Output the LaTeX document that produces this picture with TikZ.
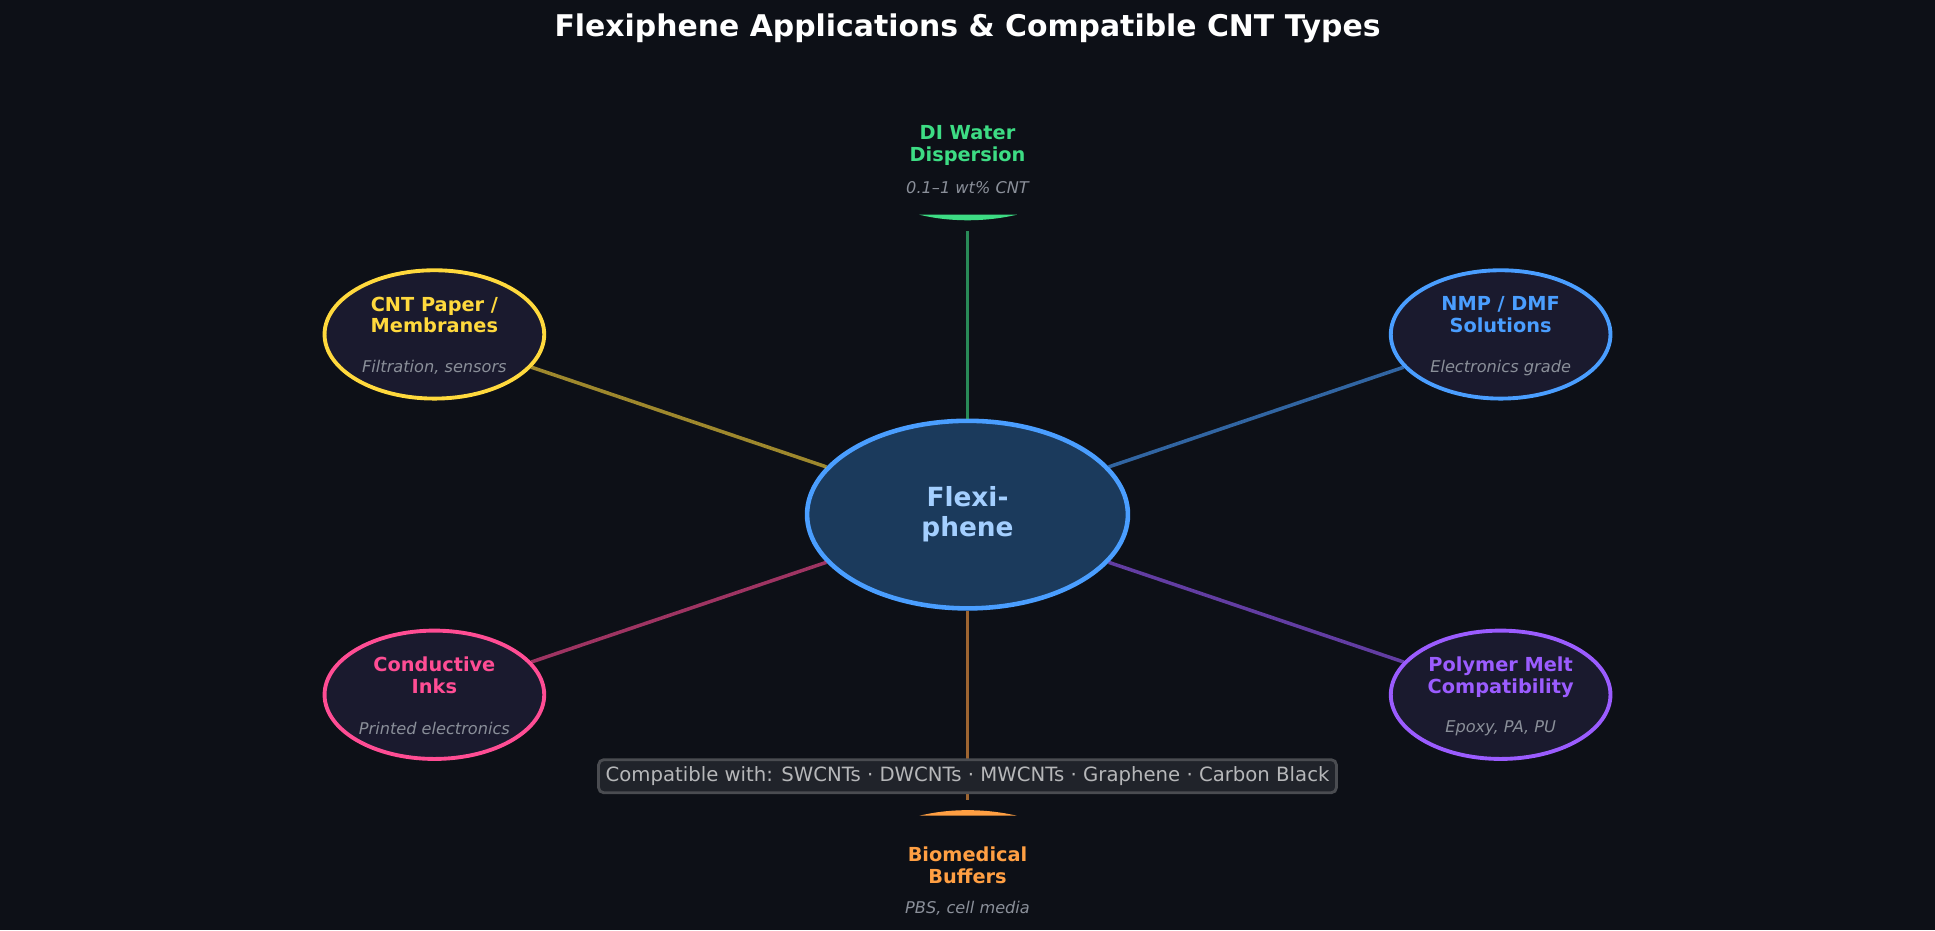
\documentclass[tikz,border=0pt]{standalone}
\usepackage{fontspec}
\setmainfont{DejaVu Sans}
\usetikzlibrary{shapes.geometric}
\usetikzlibrary{positioning}
\definecolor{bg}{HTML}{0D1017}
\definecolor{hub}{HTML}{1B3A5C}
\definecolor{sat}{HTML}{1A1A2E}
\definecolor{cblue}{HTML}{4A9EFF}
\definecolor{cyel}{HTML}{FFD93D}
\definecolor{cpink}{HTML}{FF4D94}
\definecolor{cpur}{HTML}{9B5CFF}
\definecolor{cgrn}{HTML}{3DDC84}
\definecolor{corg}{HTML}{FF9F43}
\definecolor{csub}{HTML}{8A8F99}
\begin{document}
\begin{tikzpicture}[x=0.1234mm,y=-0.1234mm,thick]
\tikzstyle{app}=[ellipse,fill=sat,line width=1.1pt,minimum width=1.78cm*1.234,minimum height=1.04cm*1.234,inner sep=0pt,align=center,font=\fontsize{5.5}{6.2}\selectfont\bfseries]
\tikzstyle{sub}=[font=\fontsize{4.6}{5}\selectfont\itshape,text=csub]
\tikzstyle{spoke}=[line width=1pt,opacity=0.6]
\fill[bg] (0,0) rectangle (1568,754);
\useasboundingbox (0,0) rectangle (1568,754);
\node[text=white,font=\fontsize{8.5}{10}\selectfont\bfseries] (title) at (784,23) {Flexiphene Applications \& Compatible CNT Types};
\node[ellipse,fill=hub,draw=cblue,line width=1.3pt,minimum width=2.6cm*1.234,minimum height=1.52cm*1.234,align=center,text=cblue!50!white,font=\fontsize{7.5}{8.5}\selectfont\bfseries] (flex) at (784,417) {Flexi-\\phene};
\node[app,draw=cyel,text=cyel] (paper) at (352,271) {CNT Paper /\\Membranes\\[5pt]\mbox{}};
\node[sub] at (352,298) {Filtration, sensors};
\node[app,draw=cblue,text=cblue] (nmp) at (1216,271) {NMP / DMF\\Solutions\\[5pt]\mbox{}};
\node[sub] at (1216,298) {Electronics grade};
\node[app,draw=cpink,text=cpink] (ink) at (352,563) {Conductive\\Inks\\[5pt]\mbox{}};
\node[sub] at (352,590) {Printed electronics};
\node[app,draw=cpur,text=cpur] (melt) at (1216,563) {Polymer Melt\\Compatibility\\[5pt]\mbox{}};
\node[sub] at (1216,590) {Epoxy, PA, PU};
\node[align=center,text=cgrn,font=\fontsize{5.5}{6.2}\selectfont\bfseries] (water) at (784,118) {DI Water\\Dispersion};
\node[sub] at (784,152) {0.1--1 wt\% CNT};
\node[align=center,text=corg,font=\fontsize{5.5}{6.2}\selectfont\bfseries] (bio) at (784,701) {Biomedical\\Buffers};
\node[sub] at (784,736) {PBS, cell media};
\coordinate (wtop) at (784,187);
\coordinate (bbot) at (784,648);
\fill[cgrn] (745,174) .. controls (770,180) and (798,180) .. (824,174) -- cycle;
\fill[corg] (745,661) .. controls (770,655) and (798,655) .. (824,661) -- cycle;
\draw[spoke,draw=cyel] (paper) -- (flex);
\draw[spoke,draw=cblue] (nmp) -- (flex);
\draw[spoke,draw=cpink] (ink) -- (flex);
\draw[spoke,draw=cpur] (melt) -- (flex);
\draw[spoke,draw=cgrn] (wtop) -- (flex);
\draw[spoke,draw=corg] (bbot) -- (flex);
\node[draw=white!25!bg,fill=white!8!bg,rounded corners=1.5pt,inner sep=2pt,text=white!70!bg,font=\fontsize{5.6}{6.5}\selectfont] (compat) at (784,629) {Compatible with: SWCNTs · DWCNTs · MWCNTs · Graphene · Carbon Black};
\end{tikzpicture}
\end{document}
